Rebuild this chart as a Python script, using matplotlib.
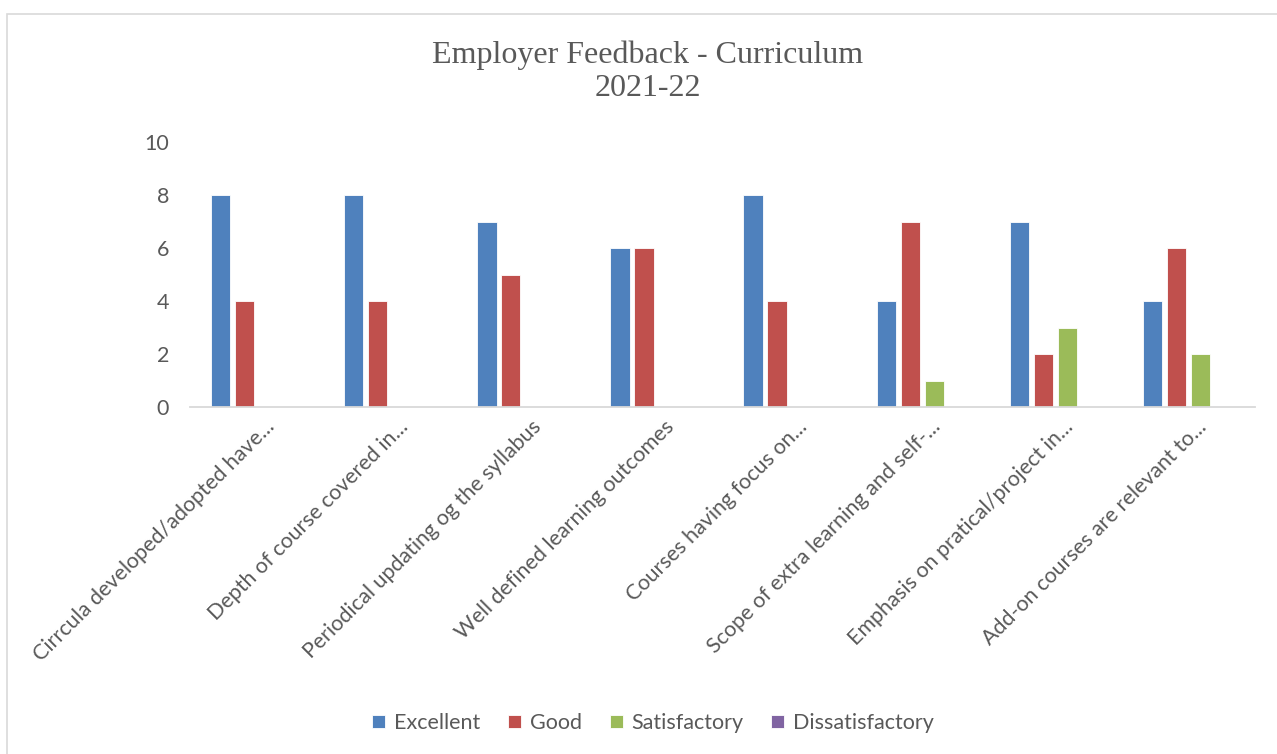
import numpy as np
import matplotlib
matplotlib.use("Agg")
import matplotlib.pyplot as plt
from matplotlib.patches import Rectangle
from matplotlib.transforms import ScaledTranslation

categories = [
    "Cirrcula developed/adopted have...",
    "Depth of course covered in...",
    "Periodical updating og the syllabus",
    "Well defined learning outcomes",
    "Courses having focus on...",
    "Scope of extra learning and self-...",
    "Emphasis on pratical/project in...",
    "Add-on courses are relevant to...",
]
excellent = [8, 8, 7, 6, 8, 4, 7, 4]
good = [4, 4, 5, 6, 4, 7, 2, 6]
satisfactory = [0, 0, 0, 0, 0, 1, 3, 2]
dissatisfactory = [0, 0, 0, 0, 0, 0, 0, 0]

series_names = ["Excellent", "Good", "Satisfactory", "Dissatisfactory"]
series_colors = ["#4F81BD", "#C0504D", "#9BBB59", "#8064A2"]
text_color = "#595959"

plt.rcParams["font.family"] = ["Lato", "DejaVu Sans"]

fig = plt.figure(figsize=(12.77, 7.54), dpi=100)
# chart border (runs off the right and bottom edges)
fig.patches.append(Rectangle((7 / 1277, -0.05), 1.1, 1 - 14 / 754 + 0.05,
                             transform=fig.transFigure, fill=False,
                             edgecolor="#D9D9D9", linewidth=1.2))

ax = fig.add_axes([190 / 1277, 1 - 407 / 754, (1255 - 190) / 1277, (407 - 142) / 754])

x = np.arange(len(categories))
step = 0.18
width = 0.145
all_series = [excellent, good, satisfactory, dissatisfactory]
for i, (vals, name, col) in enumerate(zip(all_series, series_names, series_colors)):
    ax.bar(x + (i - 1.5) * step, vals, width=width, color=col, label=name,
           edgecolor="white", linewidth=0.6)

ax.set_xlim(-0.5, len(categories) - 0.5)
ax.set_ylim(0, 10)
ax.set_yticks([0, 2, 4, 6, 8, 10])
ax.tick_params(axis="y", length=0, pad=15, labelsize=15.5, labelcolor=text_color)
ax.set_xticks(x)
ax.set_xticklabels(categories, rotation=45, ha="right", va="center",
                   rotation_mode="anchor", fontsize=15.5, color=text_color)
ax.tick_params(axis="x", length=0, pad=12)
shift = ScaledTranslation(15 / 100, 0, fig.dpi_scale_trans)
for lbl in ax.get_xticklabels():
    lbl.set_transform(lbl.get_transform() + shift)

for side in ["top", "right", "left"]:
    ax.spines[side].set_visible(False)
ax.spines["bottom"].set_color("#D9D9D9")
ax.spines["bottom"].set_linewidth(1.3)

fig.text(648 / 1277, 1 - 72 / 754, "Employer Feedback - Curriculum\n2021-22",
         ha="center", va="center", fontsize=23, color=text_color,
         family="Liberation Serif", linespacing=1.2)

fig.legend(loc="center", bbox_to_anchor=(653 / 1277, 1 - 723 / 754), ncol=4,
           frameon=False, fontsize=15.5, labelcolor=text_color,
           handlelength=0.6, handleheight=0.6, handletextpad=0.4, columnspacing=1.3)

fig.savefig("out.png", dpi=100)
